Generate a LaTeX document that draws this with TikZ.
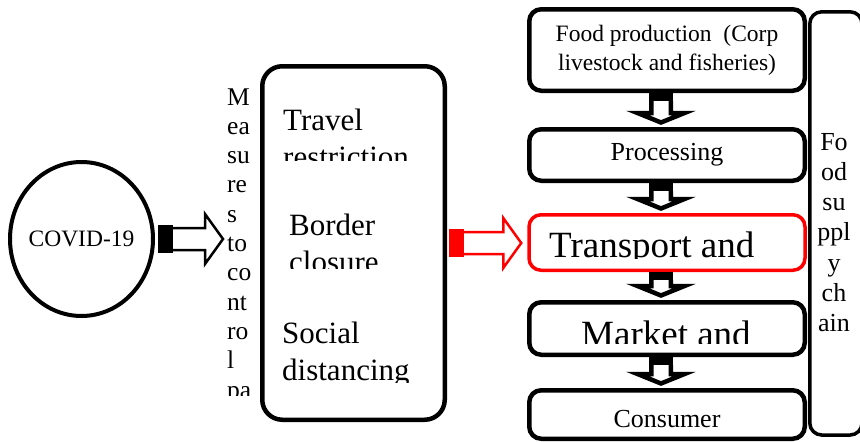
\documentclass[tikz,border=0pt]{standalone}
\usepackage{fontspec}
\setmainfont{Liberation Serif}
\usetikzlibrary{shapes.geometric,calc}

% hollow block arrows with a solid piece at the tail
\newcommand{\fatright}[3]{%
  \fill[#3] ($(#1)+(0,-14)$) rectangle ($(#1)+(15,14)$);
  \draw[#3,line width=2.5pt,fill=white,line join=miter]
    ($(#1)+(15,-11)$) -- ($(#2)+(-18,-11)$) -- ($(#2)+(-18,-25)$) -- (#2)
    -- ($(#2)+(-18,25)$) -- ($(#2)+(-18,11)$) -- ($(#1)+(15,11)$);
}
\newcommand{\fatdown}[2]{%
  \fill ($(#1.south)+(-18,0)$) rectangle ($(#1.south)+(6,8)$);
  \draw[line width=4.5pt,fill=white,line join=miter]
    ($(#1.south)+(-15.75,8)$) -- ($(#2.north)+(-15.75,-14)$) -- ($(#2.north)+(-29.5,-14)$)
    -- ($(#2.north)+(-6,-4.5)$) -- ($(#2.north)+(17.5,-14)$) -- ($(#2.north)+(3.75,-14)$)
    -- ($(#1.south)+(3.75,8)$);
}

\begin{document}
\begin{tikzpicture}[x=1pt, y=-1pt,
  roundbox/.style={draw, line width=4.5pt, rounded corners=12pt, minimum width=275.5pt, inner sep=0pt},
  bodytext/.style={inner sep=0pt, anchor=north west, align=left, font=\fontsize{31}{37}\selectfont},
  bigtext/.style={inner sep=0pt, anchor=base west, font=\fontsize{37}{44}\selectfont}]
  \useasboundingbox (0,0) rectangle (860,442);

  % cause and measures
  \node[draw, ellipse, line width=4pt, minimum width=143pt, minimum height=154pt, inner sep=0pt]
    (covid) at (81.5,239) {};
  \node[inner sep=0pt, font=\fontsize{23.5}{28}\selectfont] (covidtext) at (covid.center) {COVID-19};
  \begin{scope}
    \clip (222,80) rectangle (258,395);
    \node[inner sep=0pt, anchor=north west, align=left, font=\fontsize{25.5}{29.3}\selectfont]
      (mlabel) at (227,88.1) {M\\ea\\su\\re\\s\\to\\co\\nt\\ro\\l\\pa};
  \end{scope}
  \node[draw, line width=4.5pt, rounded corners=20pt, minimum width=182.5pt, minimum height=353.5pt,
        inner sep=0pt] (mbox) at (353.5,243) {};
  \begin{scope}
    \clip (270,100) rectangle (440,160);
    \node[bodytext] (travel) at (283,108.8) {Travel\\restriction};
  \end{scope}
  \begin{scope}
    \clip (270,200) rectangle (440,268);
    \node[bodytext] (border) at (289,213.8) {Border\\closure};
  \end{scope}
  \begin{scope}
    \clip (270,300) rectangle (440,382);
    \node[bodytext] (social) at (282,321.8) {Social\\distancing};
  \end{scope}

  % food supply chain
  \node[roundbox, minimum height=81.5pt, align=center, font=\fontsize{23.5}{29}\selectfont]
    (food) at (667,50) {Food production\ \ (Corp\\livestock and fisheries)};
  \node[roundbox, minimum height=51.5pt, font=\fontsize{26}{31}\selectfont] (proc) at (667,155) {Processing};
  \node[roundbox, draw=red, line width=3.5pt, minimum width=276pt, minimum height=55.5pt] (trans) at (667,242.5) {};
  \begin{scope}
    \clip (531,215) rectangle (803,258.5);
    \node[bigtext] (transtext) at (549,257.8) {Transport and};
  \end{scope}
  \node[roundbox, minimum height=52.5pt] (market) at (667,328.5) {};
  \begin{scope}
    \clip (531,302) rectangle (803,343.3);
    \node[bigtext] (markettext) at (581,346.2) {Market and};
  \end{scope}
  \node[roundbox, minimum height=48.5pt, text height=25pt, text depth=0pt, font=\fontsize{26}{31}\selectfont]
    (cons) at (667,414.5) {Consumer};
  \node[draw, line width=3.5pt, rounded corners=12pt, minimum width=52.25pt, minimum height=423.25pt,
        inner sep=0pt] (chain) at (835.9,223.4) {};
  \node[inner sep=0pt, anchor=north, align=center, font=\fontsize{26}{30.3}\selectfont]
    (chaintext) at (834,132.8) {Fo\\od\\su\\ppl\\y\\ch\\ain};

  % arrows
  \coordinate (a1) at ($(covid.east)+(3,0)$);
  \coordinate (a2) at ($(covid.east -| mlabel.west)+(-4,0)$);
  \fatright{a1}{a2}{black}
  \coordinate (r1) at ($(mbox.east)+(2,0)$);
  \coordinate (r2) at ($(mbox.east -| trans.west)+(-6,0)$);
  \fatright{r1}{r2}{red}
  \fatdown{food}{proc}
  \fatdown{proc}{trans}
  \fatdown{trans}{market}
  \fatdown{market}{cons}
\end{tikzpicture}
\end{document}
